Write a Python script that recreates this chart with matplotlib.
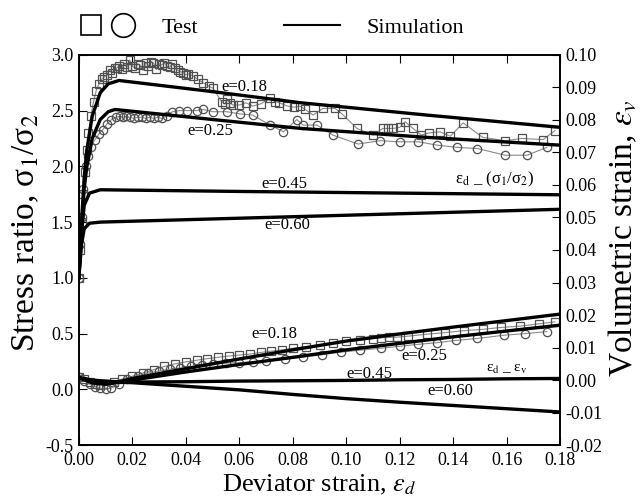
import matplotlib
matplotlib.use("Agg")
import matplotlib.pyplot as plt
from matplotlib.lines import Line2D
from matplotlib.legend_handler import HandlerTuple

plt.rcParams["font.family"] = ["Liberation Serif", "DejaVu Serif"]
plt.rcParams["mathtext.fontset"] = "stix"

# ---------------------------------------------------------------------------
# Data
# ---------------------------------------------------------------------------
# Simulation, stress ratio (left axis)
sim_d_018 = [0, 0.001, 0.002, 0.003, 0.005, 0.008, 0.011, 0.015, 0.05, 0.083, 0.13, 0.18]
sim_q_018 = [1.0, 1.5, 1.9, 2.15, 2.45, 2.66, 2.74, 2.77, 2.67, 2.57, 2.46, 2.35]
sim_d_025 = [0, 0.001, 0.002, 0.003, 0.005, 0.008, 0.011, 0.0135, 0.05, 0.083, 0.13, 0.18]
sim_q_025 = [1.0, 1.45, 1.8, 2.0, 2.25, 2.42, 2.49, 2.51, 2.42, 2.34, 2.26, 2.19]
sim_d_045 = [0, 0.001, 0.002, 0.004, 0.008, 0.06, 0.12, 0.18]
sim_q_045 = [1.0, 1.4, 1.65, 1.76, 1.79, 1.775, 1.76, 1.745]
sim_d_060 = [0, 0.001, 0.002, 0.004, 0.008, 0.06, 0.12, 0.18]
sim_q_060 = [1.0, 1.3, 1.44, 1.49, 1.50, 1.535, 1.575, 1.615]

# Simulation, volumetric strain (right axis)
sim_dv = [0, 0.005, 0.01, 0.015, 0.02, 0.04, 0.06, 0.08, 0.10, 0.12, 0.14, 0.16, 0.18]
sim_v_018 = [0.0008, -0.0008, -0.0012, -0.0005, 0.0005, 0.0035, 0.0065, 0.0093, 0.012,
             0.0142, 0.0163, 0.0183, 0.0203]
sim_v_025 = [0.0008, -0.0008, -0.0012, -0.0006, 0.0, 0.0025, 0.0048, 0.007, 0.0093,
             0.0113, 0.0133, 0.0151, 0.0169]
sim_v_045 = [0.0008, -0.0005, -0.0008, -0.0007, -0.0006, -0.0005, -0.0003, -0.0002,
             -0.0001, 0.0001, 0.0002, 0.0004, 0.0005]
sim_v_060 = [0.0008, 0.0, -0.0003, -0.0006, -0.0008, -0.0019, -0.003, -0.0044, -0.0057,
             -0.0068, -0.0078, -0.0088, -0.0098]

# Test, stress ratio: squares (e=0.18) and circles (e=0.25)
sq_d = [0.000, 0.0005, 0.001, 0.0016, 0.0022, 0.0029, 0.0036, 0.0045, 0.0055, 0.0065,
        0.0075, 0.0085, 0.0095, 0.0104, 0.0115, 0.0125, 0.0135, 0.0141, 0.0150, 0.0160,
        0.0170, 0.0180, 0.0190, 0.0200, 0.0210, 0.0220, 0.0228, 0.0240, 0.0250, 0.0260,
        0.0270, 0.0278, 0.0290, 0.0300, 0.0310, 0.0320, 0.0328, 0.0340, 0.0350, 0.0360,
        0.0370, 0.0378, 0.0390, 0.0400, 0.0410, 0.0428, 0.0445, 0.0465, 0.0485, 0.0502,
        0.0534, 0.0545, 0.0555, 0.0565, 0.0576, 0.0600, 0.0625, 0.0650, 0.0680, 0.0715,
        0.0735, 0.0750, 0.0780, 0.0805, 0.0827, 0.0846, 0.0876, 0.0913, 0.0958, 0.0984,
        0.104, 0.110, 0.1137, 0.1155, 0.1175, 0.120, 0.122, 0.125, 0.128, 0.131, 0.135,
        0.1389, 0.1437, 0.151, 0.1594, 0.1657, 0.1736, 0.178]
sq_q = [1.00, 1.25, 1.50, 1.75, 1.95, 2.15, 2.30, 2.45, 2.58, 2.68,
        2.74, 2.78, 2.80, 2.82, 2.86, 2.84, 2.88, 2.88, 2.90, 2.87,
        2.92, 2.89, 2.955, 2.90, 2.88, 2.92, 2.91, 2.86, 2.93, 2.90,
        2.94, 2.93, 2.87, 2.92, 2.91, 2.93, 2.90, 2.89, 2.92, 2.88,
        2.86, 2.85, 2.84, 2.82, 2.83, 2.81, 2.78, 2.75, 2.72, 2.70,
        2.58, 2.56, 2.60, 2.57, 2.55, 2.55, 2.57, 2.54, 2.56, 2.61,
        2.58, 2.57, 2.54, 2.53, 2.54, 2.51, 2.46, 2.52, 2.52, 2.47,
        2.34, 2.28, 2.34, 2.34, 2.34, 2.35, 2.40, 2.34, 2.28, 2.30, 2.31,
        2.27, 2.39, 2.26, 2.23, 2.25, 2.24, 2.32]

ci_d = [0.000, 0.0005, 0.001, 0.0016, 0.0025, 0.0035, 0.0045, 0.006, 0.0075, 0.009,
        0.0105, 0.0122, 0.014, 0.0153, 0.0165, 0.0178, 0.019, 0.0205, 0.022, 0.0235,
        0.025, 0.0265, 0.028, 0.0295, 0.031, 0.0328, 0.035, 0.0375, 0.0403, 0.044,
        0.0465, 0.0502, 0.0553, 0.0603, 0.065, 0.0715, 0.0765, 0.0815, 0.0838, 0.089,
        0.095, 0.1045, 0.1126, 0.120, 0.127, 0.134, 0.1415, 0.149, 0.1594, 0.1676, 0.175]
ci_q = [1.00, 1.30, 1.55, 1.80, 2.00, 2.09, 2.17, 2.24, 2.29, 2.33,
        2.38, 2.42, 2.44, 2.45, 2.44, 2.45, 2.44, 2.43, 2.44, 2.44,
        2.43, 2.44, 2.43, 2.44, 2.43, 2.45, 2.49, 2.50, 2.50, 2.50,
        2.51, 2.49, 2.49, 2.47, 2.46, 2.37, 2.31, 2.42, 2.37, 2.37,
        2.28, 2.20, 2.23, 2.22, 2.22, 2.19, 2.17, 2.16, 2.10, 2.10, 2.17]

# Test, volumetric strain
sqv_d = [0.000, 0.002, 0.004, 0.006, 0.008, 0.010, 0.013, 0.016, 0.020, 0.024, 0.028,
         0.032, 0.036, 0.040, 0.044, 0.048, 0.052, 0.056, 0.060, 0.064, 0.068, 0.072,
         0.076, 0.080, 0.085, 0.090, 0.095, 0.100, 0.105, 0.110, 0.113, 0.116, 0.119,
         0.123, 0.130, 0.137, 0.144, 0.151, 0.158, 0.165, 0.172, 0.178]
sqv_v = [0.0010, 0.0002, -0.0006, -0.0012, -0.0015, -0.0012, -0.0005, 0.0003, 0.0012,
         0.0022, 0.0032, 0.0042, 0.0050, 0.0056, 0.0061, 0.0066, 0.0070, 0.0074, 0.0077,
         0.0080, 0.0085, 0.0089, 0.0093, 0.0098, 0.0103, 0.0108, 0.0114, 0.0119, 0.0123,
         0.0127, 0.0130, 0.0131, 0.0132, 0.0135, 0.0141, 0.0146, 0.0152, 0.0156, 0.0162,
         0.0166, 0.0173, 0.0179]
civ_d = [0.000, 0.002, 0.004, 0.006, 0.008, 0.010, 0.012, 0.015, 0.018, 0.022, 0.026,
         0.030, 0.034, 0.038, 0.042, 0.046, 0.050, 0.055, 0.060, 0.065, 0.070, 0.077,
         0.084, 0.091, 0.098, 0.105, 0.113, 0.120, 0.127, 0.134, 0.141, 0.149, 0.159,
         0.167, 0.175]
civ_v = [0.0008, -0.0002, -0.0012, -0.0020, -0.0025, -0.0028, -0.0025, -0.0012, 0.0002,
         0.0014, 0.0022, 0.0028, 0.0033, 0.0037, 0.0042, 0.0046, 0.0049, 0.0052, 0.0054,
         0.0056, 0.0058, 0.0064, 0.0071, 0.0078, 0.0086, 0.0092, 0.0098, 0.0104, 0.0110,
         0.0115, 0.0122, 0.0128, 0.0138, 0.0143, 0.0149]

x_ticks = [0.00, 0.02, 0.04, 0.06, 0.08, 0.10, 0.12, 0.14, 0.16, 0.18]
left_ticks = [-0.5, 0.0, 0.5, 1.0, 1.5, 2.0, 2.5, 3.0]
right_ticks = [-0.02, -0.01, 0.00, 0.01, 0.02, 0.03, 0.04, 0.05, 0.06, 0.07, 0.08, 0.09, 0.10]

# ---------------------------------------------------------------------------
# Plot
# ---------------------------------------------------------------------------
fig = plt.figure(figsize=(6.41, 5.03), dpi=100)
ax = fig.add_axes([0.123, 0.115, 0.751, 0.776])
ax2 = ax.twinx()

test_style = dict(color="#8a8a8a", lw=0.8, mfc="none", mec="#505050", mew=0.9, ms=6)
ax.plot(sq_d, sq_q, marker="s", **test_style)
ax.plot(ci_d, ci_q, marker="o", **test_style)
ax2.plot(sqv_d, sqv_v, marker="s", **test_style)
ax2.plot(civ_d, civ_v, marker="o", **test_style)

for d, q in [(sim_d_018, sim_q_018), (sim_d_025, sim_q_025),
             (sim_d_045, sim_q_045), (sim_d_060, sim_q_060)]:
    ax.plot(d, q, color="black", lw=2.4)
for v in [sim_v_018, sim_v_025, sim_v_045, sim_v_060]:
    ax2.plot(sim_dv, v, color="black", lw=2.4)

ax.set_xlim(0, 0.18)
ax.set_ylim(-0.5, 3.0)
ax2.set_ylim(-0.02, 0.10)
ax.set_xticks(x_ticks)
ax.set_xticklabels([f"{t:.2f}" for t in x_ticks])
ax.set_yticks(left_ticks)
ax.set_yticklabels([f"{t:.1f}" for t in left_ticks])
ax2.set_yticks(right_ticks)
ax2.set_yticklabels([f"{t:.2f}" for t in right_ticks])

ax.tick_params(axis="x", direction="in", top=True, length=6, labelsize=13, pad=5)
ax.tick_params(axis="y", direction="in", length=6, labelsize=13, pad=4)
ax2.tick_params(axis="y", direction="in", length=6, labelsize=13, pad=4)
for a in (ax, ax2):
    for s in a.spines.values():
        s.set_linewidth(1.2)

ax.set_xlabel(r"Deviator strain, $\varepsilon_d$", fontsize=19, labelpad=3)
ax.set_ylabel(r"Stress ratio, σ$_1$/σ$_2$", fontsize=24)
ax2.set_ylabel(r"Volumetric strain, $\varepsilon_v$", fontsize=24)
ax.yaxis.set_label_coords(-0.078, 0.545)
ax2.yaxis.set_label_coords(1.098, 0.53)

lab = dict(fontsize=12, ha="center", va="center")
ax.text(0.062, 2.71, "e=0.18", **lab)
ax.text(0.049, 2.32, "e=0.25", **lab)
ax.text(0.077, 1.84, "e=0.45", **lab)
ax.text(0.078, 1.47, "e=0.60", **lab)
ax.text(0.1556, 1.88, r"ε$_\mathrm{d}$ _ (σ$_1$/σ$_2$)", **lab)
ax.text(0.073, 0.50, "e=0.18", **lab)
ax.text(0.129, 0.30, "e=0.25", **lab)
ax.text(0.1085, 0.137, "e=0.45", **lab)
ax.text(0.139, -0.015, "e=0.60", **lab)
ax.text(0.160, 0.18, r"ε$_\mathrm{d}$ _ ε$_\mathrm{v}$", fontsize=11, ha="center", va="center")

# Legend above the plot
h_sq = Line2D([], [], ls="none", marker="s", ms=15, mfc="none", mec="black", mew=1.2)
h_ci = Line2D([], [], ls="none", marker="o", ms=17, mfc="none", mec="black", mew=1.2)
h_sim = Line2D([], [], color="black", lw=1.5)
fig.legend([(h_sq, h_ci), h_sim], ["Test", "Simulation"],
           handler_map={tuple: HandlerTuple(ndivide=None, pad=0.4)},
           loc="upper left", bbox_to_anchor=(0.092, 1.005), ncol=2, frameon=False,
           fontsize=16, handlelength=2.5, handletextpad=1.2, columnspacing=3.9)

fig.savefig("out.png", dpi=100)
